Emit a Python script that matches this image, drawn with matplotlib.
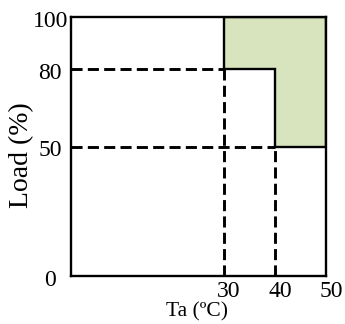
import matplotlib
matplotlib.use('Agg')
import matplotlib.pyplot as plt
from matplotlib.patches import Polygon
from matplotlib.transforms import ScaledTranslation

# ---------------------------------- data ----------------------------------
x_ticks = [30, 40, 50]
y_ticks = [0, 50, 80, 100]

# boundary of the shaded (derated) region, in data units (Ta, Load)
region_ta = [30, 50, 50, 40, 40, 30]
region_load = [100, 100, 50, 50, 80, 80]

# dashed guide lines: (x0, x1, y0, y1)
guides = [
    (0, 30, 80, 80),
    (0, 40, 50, 50),
    (30, 30, 0, 80),
    (40, 40, 0, 50),
]

plt.rcParams['font.family'] = ['Liberation Serif', 'DejaVu Serif']

fig = plt.figure(figsize=(3.45, 3.24), dpi=100)
ax = fig.add_axes([71 / 345, 1 - 276 / 324, 255 / 345, 259 / 324])

ax.set_xlim(0, 50)
ax.set_ylim(0, 100)

shade = Polygon(list(zip(region_ta, region_load)), closed=True,
                facecolor='#d7e4bd', edgecolor='black', linewidth=1.7, zorder=2)
ax.add_patch(shade)

for x0, x1, y0, y1 in guides:
    ax.plot([x0, x1], [y0, y1], color='black', linewidth=2.1,
            linestyle=(0, (3.8, 1.8)), zorder=3, clip_on=False,
            dash_capstyle='butt')

for s in ax.spines.values():
    s.set_linewidth(1.7)
    s.set_zorder(4)

ax.set_xticks(x_ticks)
ax.set_yticks(y_ticks)
ax.tick_params(length=0, labelsize=17)
ax.tick_params(axis='x', pad=3.5)
ax.tick_params(axis='y', pad=15)
for lab in ax.get_yticklabels():
    lab.set_horizontalalignment('center')
    lab.set_transform(lab.get_transform() + ScaledTranslation(0, -2 / 100, fig.dpi_scale_trans))
for lab in ax.get_xticklabels():
    lab.set_transform(lab.get_transform() + ScaledTranslation(5 / 100, 0, fig.dpi_scale_trans))

ax.set_xlabel('Ta (ºC)', fontsize=15.5, va='top')
ax.xaxis.set_label_coords(0.494, -0.1)
ax.set_ylabel('Load (%)', fontsize=20, va='center')
ax.yaxis.set_label_coords(-0.192, 0.467)

fig.savefig('out.png', dpi=100)
